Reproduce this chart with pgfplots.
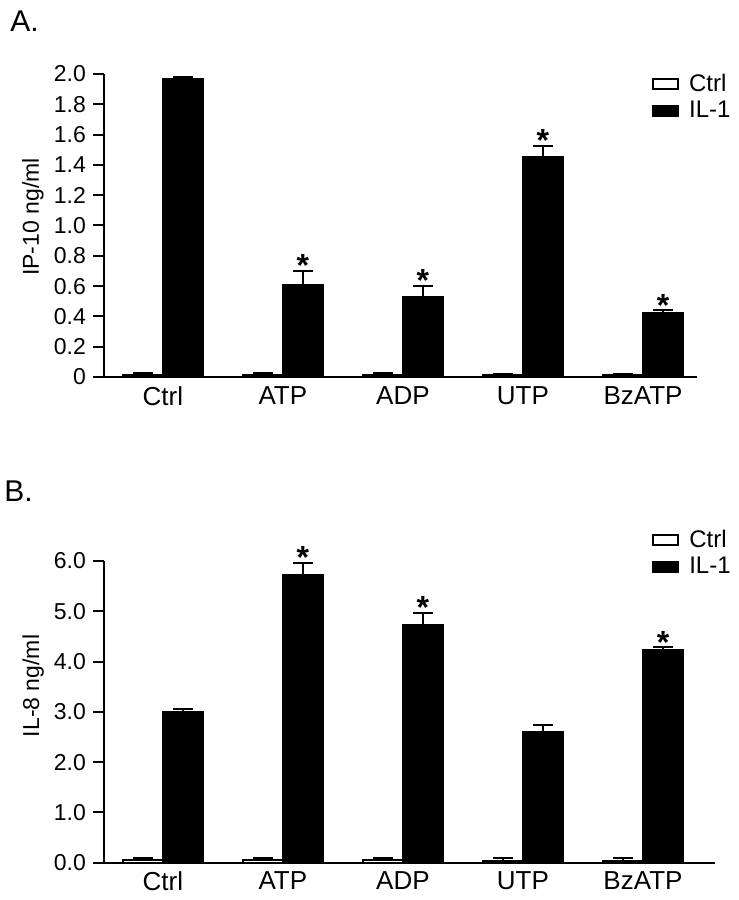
\documentclass[border=0pt]{standalone}
\usepackage{pgfplots}
\pgfplotsset{compat=1.18}
\usepackage{fontspec}
\setmainfont{Liberation Sans}

\begin{document}
\begin{tikzpicture}
\useasboundingbox (0,0) rectangle (369.5pt,450pt);
\pgfplotsset{
  mybars/.style={
    scale only axis, axis lines=left, axis line style={-, line width=1pt},
    enlargelimits=false, xmin=-0.49,
    xtick={0,1,2,3,4}, xticklabels={Ctrl,ATP,ADP,UTP,BzATP},
    major x tick style={draw=none},
    tick align=outside, major tick length=5.5pt,
    major y tick style={line width=1pt,black},
    x tick label style={font=\fontsize{13}{15}\selectfont, inner sep=0pt, yshift=1pt},
    y tick label style={font=\fontsize{11.5}{13}\selectfont},
    ylabel style={font=\fontsize{11.5}{13}\selectfont, anchor=center},
    legend image code/.code={\draw[##1,line width=0.8pt] (0pt,-2.5pt) rectangle (12.5pt,2.5pt); \path[draw=none,fill=none] (0pt,0pt) -- (17pt,0pt);},
    legend style={draw=none, fill=none, inner sep=0pt, row sep=1.5pt,
      font=\fontsize{12}{14}\selectfont, nodes={inner sep=1pt}, anchor=north west},
    legend cell align=left,
  },
  ctrlbar/.style={ybar, bar width=20pt, bar shift=0pt, draw=black, line width=1pt, fill=white,
    error bars/y dir=plus, error bars/y explicit, error bars/error mark=|,
    error bars/error bar style={line width=1pt, black},
    error bars/error mark options={line width=1pt, mark size=5pt, black}},
  ilbar/.style={ybar, bar width=20pt, bar shift=0pt, draw=black, line width=1pt, fill=black,
    error bars/y dir=plus, error bars/y explicit, error bars/error mark=|,
    error bars/error bar style={line width=1pt, black},
    error bars/error mark options={line width=1pt, mark size=5pt, black}},
  stars/.style={forget plot, draw=none, mark=none, nodes near coords={\bfseries *},
    nodes near coords style={font=\fontsize{16}{16}\selectfont, anchor=base, yshift=-2.8pt, inner sep=0pt}},
}

\node[anchor=base west, inner sep=0pt, font=\fontsize{15}{15}\selectfont] at (5pt,434pt) {A.};
\node[anchor=base west, inner sep=0pt, font=\fontsize{15}{15}\selectfont] at (2pt,199.2pt) {B.};

% Panel A
\begin{axis}[mybars, at={(52pt,261.5pt)}, anchor=south west,
  width=296.5pt, height=151.5pt, xmax=4.45, ymin=0, ymax=2.0,
  ytick={0,0.2,0.4,0.6,0.8,1.0,1.2,1.4,1.6,1.8,2.0},
  yticklabels={0,0.2,0.4,0.6,0.8,1.0,1.2,1.4,1.6,1.8,2.0},
  ylabel={IP-10 ng/ml},
  ylabel style={at={(axis description cs:-0.12,0.528)}},
  legend style={at={(axis description cs:0.924,1.009)}}]
\addplot[ctrlbar] coordinates {(-0.1667,0.012) +- (0,0.012) (0.8333,0.012) +- (0,0.012) (1.8333,0.012) +- (0,0.012) (2.8333,0.010) +- (0,0.012) (3.8333,0.010) +- (0,0.012)};
\addplot[ilbar] coordinates {(0.1667,1.970) +- (0,0.010) (1.1667,0.609) +- (0,0.089) (2.1667,0.525) +- (0,0.073) (3.1667,1.451) +- (0,0.077) (4.1667,0.421) +- (0,0.018)};
\addplot[stars] coordinates {(1.1667,0.698) (2.1667,0.598) (3.1667,1.528) (4.1667,0.439)};
\legend{Ctrl,IL-1}
\end{axis}

% Panel B
\begin{axis}[mybars, at={(52pt,18.65pt)}, anchor=south west,
  width=305.5pt, height=150.85pt, xmax=4.6, ymin=0, ymax=6.0,
  ytick={0,1,2,3,4,5,6},
  yticklabels={0.0,1.0,2.0,3.0,4.0,5.0,6.0},
  ylabel={IL-8 ng/ml},
  ylabel style={at={(axis description cs:-0.116,0.586)}},
  legend style={at={(axis description cs:0.897,1.112)}}]
\addplot[ctrlbar] coordinates {(-0.1667,0.05) +- (0,0.05) (0.8333,0.05) +- (0,0.05) (1.8333,0.05) +- (0,0.05) (2.8333,0.04) +- (0,0.05) (3.8333,0.04) +- (0,0.05)};
\addplot[ilbar] coordinates {(0.1667,2.99) +- (0,0.06) (1.1667,5.73) +- (0,0.24) (2.1667,4.73) +- (0,0.24) (3.1667,2.60) +- (0,0.14) (4.1667,4.23) +- (0,0.05)};
\addplot[stars] coordinates {(1.1667,5.97) (2.1667,4.97) (4.1667,4.27)};
\legend{Ctrl,IL-1}
\end{axis}
\end{tikzpicture}
\end{document}
